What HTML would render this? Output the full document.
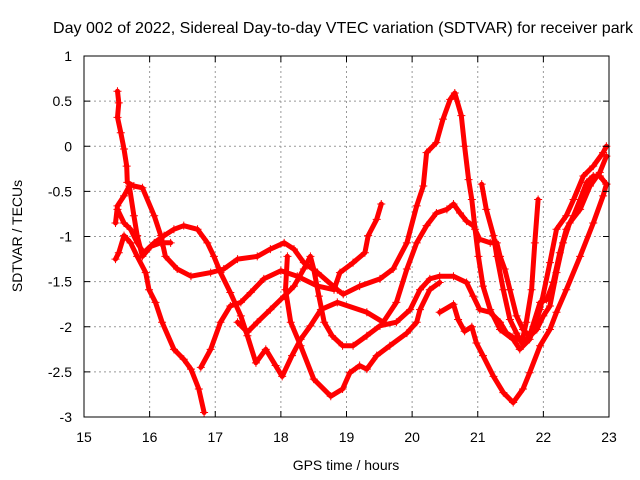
<!DOCTYPE html>
<html><head><meta charset="utf-8"><style>
html,body{margin:0;padding:0;background:#fff;}
svg{display:block;font-family:"Liberation Sans",sans-serif;}
</style></head><body>
<svg id="chart" width="640" height="480" viewBox="0 0 640 480">
<text x="343" y="33" text-anchor="middle" font-size="16" textLength="580" lengthAdjust="spacingAndGlyphs">Day 002 of 2022, Sidereal Day-to-day VTEC variation (SDTVAR) for receiver park</text>
<g id="grid"></g>
<g id="series"></g>
<rect x="84" y="56" width="525" height="361" fill="none" stroke="#000" stroke-width="1"/>
<g id="axes"></g>
<text x="346" y="470" text-anchor="middle" font-size="14">GPS time / hours</text>
<text transform="translate(22,236) rotate(-90)" text-anchor="middle" font-size="14">SDTVAR / TECUs</text>
</svg>
<script>
const xTicks=[15,16,17,18,19,20,21,22,23];
const yTicks=[1,0.5,0,-0.5,-1,-1.5,-2,-2.5,-3];
const yTickLabels=["1","0.5","0","-0.5","-1","-1.5","-2","-2.5","-3"];
const track1=[[15.51,0.61],[15.53,0.48],[15.51,0.32],[15.56,0.15],[15.61,-0.03],[15.65,-0.22],[15.66,-0.40],[15.76,-0.44],[15.89,-0.46],[16.07,-0.77],[16.17,-0.99],[16.24,-1.22],[16.42,-1.36],[16.63,-1.44],[16.93,-1.40],[17.13,-1.36],[17.34,-1.25],[17.64,-1.22],[17.84,-1.14],[18.05,-1.07],[18.20,-1.14],[18.35,-1.29],[18.56,-1.40],[18.86,-1.59],[18.95,-1.64],[19.20,-1.55],[19.51,-1.47],[19.71,-1.36],[19.92,-1.07],[20.07,-0.66],[20.17,-0.44],[20.22,-0.07],[20.37,0.04],[20.47,0.30],[20.58,0.52],[20.65,0.59],[20.75,0.34],[20.80,0.00],[20.86,-0.37],[20.91,-0.59],[20.96,-0.92],[21.01,-1.22],[21.08,-1.55],[21.19,-1.81],[21.34,-2.03],[21.54,-2.14],[21.64,-2.25],[21.79,-2.14],[21.95,-1.81],[22.10,-1.29],[22.20,-0.92],[22.35,-0.77],[22.46,-0.59],[22.61,-0.33],[22.76,-0.22],[22.91,-0.07],[22.96,0.00]];
const track2=[[15.48,-1.25],[15.53,-1.18],[15.61,-0.99],[15.71,-1.07],[15.81,-1.22],[15.94,-1.40],[15.99,-1.59],[16.09,-1.73],[16.19,-1.95],[16.37,-2.25],[16.52,-2.36],[16.63,-2.47],[16.75,-2.69],[16.83,-2.95]];
const track3=[[15.51,-0.70],[15.61,-0.85],[15.71,-0.92],[15.81,-1.07],[15.91,-1.18],[16.07,-1.07],[16.22,-0.99],[16.37,-0.92],[16.52,-0.88],[16.73,-0.92],[16.88,-1.07],[16.98,-1.22],[17.08,-1.40],[17.23,-1.62],[17.39,-1.88],[17.49,-2.10],[17.62,-2.40],[17.77,-2.25],[17.92,-2.43],[18.02,-2.55],[18.17,-2.32],[18.30,-2.14],[18.45,-1.99],[18.61,-1.81],[18.86,-1.73],[19.31,-1.84],[19.56,-1.95],[19.76,-1.73],[19.92,-1.36],[20.07,-1.07],[20.22,-0.88],[20.37,-0.74],[20.53,-0.70],[20.63,-0.64],[20.73,-0.74],[20.83,-0.83],[20.93,-0.88],[21.03,-1.03],[21.19,-1.07],[21.29,-1.07],[21.34,-1.22],[21.41,-1.36],[21.49,-1.59],[21.59,-1.88],[21.69,-2.03],[21.79,-2.10],[21.95,-1.73],[22.05,-1.70],[22.15,-1.51],[22.25,-1.18],[22.35,-0.92],[22.46,-0.77],[22.56,-0.59],[22.66,-0.40],[22.76,-0.33],[22.86,-0.33],[22.96,-0.42]];
const track4=[[16.78,-2.45],[16.93,-2.25],[17.08,-1.95],[17.23,-1.77],[17.39,-1.73],[17.54,-1.62],[17.74,-1.47],[18.00,-1.38],[18.25,-1.44],[18.56,-1.55],[18.81,-1.59],[18.90,-1.40],[19.10,-1.29],[19.28,-1.18],[19.33,-0.99],[19.46,-0.81],[19.53,-0.64]];
const track5=[[17.34,-1.95],[17.49,-2.06],[17.64,-1.95],[17.84,-1.81],[18.05,-1.66],[18.20,-1.55],[18.35,-1.36],[18.45,-1.22],[18.50,-1.36],[18.58,-1.66],[18.66,-1.95],[18.78,-2.10],[18.94,-2.21],[19.10,-2.21],[19.31,-2.10],[19.51,-1.99],[19.76,-1.95],[19.97,-1.81],[20.12,-1.59],[20.27,-1.47],[20.42,-1.44],[20.63,-1.44],[20.83,-1.51],[20.93,-1.66],[21.03,-1.81],[21.19,-1.84],[21.34,-1.95],[21.44,-2.07],[21.59,-2.14],[21.74,-2.14],[21.90,-2.03],[22.00,-1.88],[22.10,-1.77],[22.20,-1.40],[22.30,-1.07],[22.40,-0.85],[22.56,-0.70],[22.71,-0.44],[22.86,-0.29],[22.96,-0.11]];
const track6=[[18.10,-1.22],[18.07,-1.59],[18.15,-1.95],[18.30,-2.21],[18.50,-2.58],[18.76,-2.77],[18.94,-2.69],[19.05,-2.51],[19.20,-2.43],[19.31,-2.47],[19.46,-2.32],[19.66,-2.21],[19.92,-2.07],[20.07,-1.95],[20.12,-1.81],[20.27,-1.59],[20.42,-1.51]];
const track7=[[20.42,-1.84],[20.63,-1.75],[20.70,-1.92],[20.80,-2.05],[20.91,-2.00],[20.98,-2.18],[21.08,-2.32],[21.24,-2.55],[21.39,-2.73],[21.54,-2.84],[21.69,-2.69],[21.79,-2.51],[21.95,-2.21],[22.10,-2.03],[22.20,-1.84],[22.35,-1.59],[22.56,-1.22],[22.76,-0.85],[22.91,-0.55],[22.96,-0.42]];
const track8=[[21.06,-0.42],[21.13,-0.70],[21.24,-0.99],[21.29,-1.22],[21.39,-1.59],[21.49,-1.92],[21.59,-2.07],[21.67,-2.18],[21.74,-1.95],[21.82,-1.59],[21.87,-1.07],[21.92,-0.59]];
const track9=[[15.48,-0.85],[15.51,-0.66],[15.61,-0.55],[15.69,-0.44],[15.76,-0.77],[15.81,-0.99],[15.89,-1.22],[16.02,-1.11],[16.17,-1.07],[16.32,-1.07]];
const tracks=[track1,track2,track3,track4,track5,track6,track7,track8,track9];

const NS="http://www.w3.org/2000/svg";
const X0=84,X1=609,Y0=56,Y1=417;
function xs(v){return X0+(v-15)/8*(X1-X0);}
function ys(v){return Y0+(1-v)/4*(Y1-Y0);}
const grid=document.getElementById('grid'),axes=document.getElementById('axes'),series=document.getElementById('series');
function mk(tag,attrs,parent){const e=document.createElementNS(NS,tag);for(const k in attrs)e.setAttribute(k,attrs[k]);parent.appendChild(e);return e;}
xTicks.forEach((t,i)=>{
  const x=xs(t);
  if(i>0&&i<xTicks.length-1){const g=mk('line',{x1:x,y1:Y0,x2:x,y2:Y1,stroke:'#999','stroke-dasharray':'2,3'},grid);
  
  }
  mk('line',{x1:x,y1:Y1,x2:x,y2:Y1-6,stroke:'#000'},axes);
  mk('line',{x1:x,y1:Y0,x2:x,y2:Y0+6,stroke:'#000'},axes);
  const tx=mk('text',{x:x,y:442,'text-anchor':'middle','font-size':'14'},axes);
  tx.textContent=t;
  
  
});
yTicks.forEach((t,i)=>{
  const y=ys(t);
  if(i>0&&i<yTicks.length-1){const g=mk('line',{x1:X0,y1:y,x2:X1,y2:y,stroke:'#999','stroke-dasharray':'2,3'},grid);
  
  }
  mk('line',{x1:X0,y1:y,x2:X0+6,y2:y,stroke:'#000'},axes);
  mk('line',{x1:X1,y1:y,x2:X1-6,y2:y,stroke:'#000'},axes);
  const tx=mk('text',{x:72,y:y+5,'text-anchor':'end','font-size':'14'},axes);
  tx.textContent=yTickLabels[i];
  
  
});
tracks.forEach((tr,ti)=>{
  const pts=tr.map(p=>xs(p[0]).toFixed(1)+','+ys(p[1]).toFixed(1)).join(' ');
  const pl=mk('polyline',{points:pts,fill:'none',stroke:'#f00','stroke-width':'5','stroke-linejoin':'round','stroke-linecap':'round'},series);
  
  
  tr.forEach(p=>{
    const x=xs(p[0]),y=ys(p[1]);
    const m=mk('path',{d:`M${x-4},${y}H${x+4}M${x},${y-4}V${y+4}`,stroke:'#f00','stroke-width':'1'},series);
    
    
  });
});
</script>
</body></html>
